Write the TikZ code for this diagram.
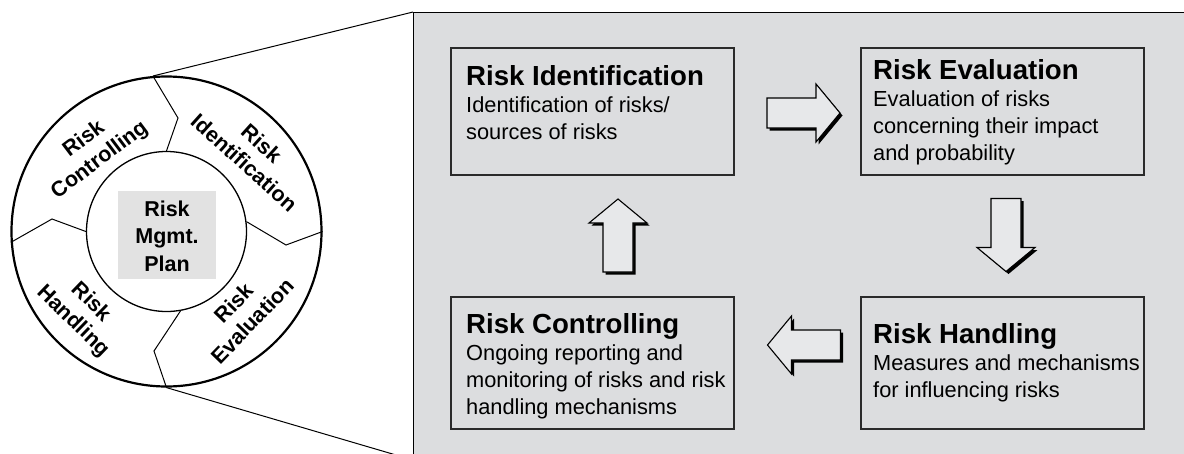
\documentclass[tikz,border=0pt]{standalone}
\usepackage{fontspec}
\setmainfont{Liberation Sans}
\definecolor{panelgray}{HTML}{DCDDDF}
\definecolor{arrowgray}{HTML}{E7E8EA}
\definecolor{centergray}{HTML}{E2E2E2}
\definecolor{boxline}{HTML}{2A2A2A}
\newcommand\titlef{\bfseries\fontsize{27.6}{27}\selectfont}
\newcommand\bodyf{\mdseries\fontsize{21.8}{27}\selectfont}
\newcommand\bkarrow[2]{%
  \fill[black, shift={(#1)}, shift={(2.5,2.5)}, rotate=#2]
    (-36.5,-15) -- (12.5,-15) -- (12.5,-29) -- (36.5,0) -- (12.5,29) -- (12.5,15) -- (-36.5,15) -- cycle;
  \filldraw[blockarr, shift={(#1)}, rotate=#2]
    (-36.5,-15) -- (12.5,-15) -- (12.5,-29) -- (36.5,0) -- (12.5,29) -- (12.5,15) -- (-36.5,15) -- cycle;}
\tikzset{
  blockarr/.style={fill=arrowgray, draw=black, line width=1.1pt, line join=miter},
  riskbox/.style={rectangle, draw=boxline, line width=1.3pt, inner sep=0},
  boxtext/.style={anchor=base west, inner sep=0},
  ringlbl/.style={align=center, inner sep=0, font=\bfseries\fontsize{21.5}{26}\selectfont},
  divider/.style={line width=1pt, black},
}
\begin{document}
\begin{tikzpicture}[x=1pt, y=-1pt]
\clip (0,0) rectangle (1184,453);
% zoom panel
\coordinate (pnw) at (413,12);
\coordinate (psw) at (413,460);
\coordinate (pne) at (1200,12);
\fill[panelgray] (pnw) rectangle (1200,470);
\draw[line width=1pt] (pne) -- (pnw) -- (413,470);

% ring
\node[circle, draw, line width=2.2pt, minimum size=310pt, inner sep=0] (outer) at (166.5,231.5) {};
\node[circle, draw, line width=1.3pt, minimum size=160pt, inner sep=0] (inner) at (166.5,231.5) {};
\draw[divider] (outer.95) -- (178,118) -- (inner.90);
\draw[divider] (inner.7.5) -- (286,245) -- (outer.-0.6);
\draw[divider] (inner.-80.5) -- (154,351) -- (outer.-90);
\draw[divider] (outer.184.3) -- (52,219) -- (inner.180.4);
\draw[divider] (outer.95) -- (pnw);
\draw[divider] (outer.-90) -- (psw);

\node[fill=centergray, minimum width=98pt, minimum height=88pt, inner sep=0] (planbg) at (167,235) {};
\node[align=center, inner sep=0, font=\bfseries\fontsize{21.5}{27.5}\selectfont] (plan) at (167,236) {Risk\\Mgmt.\\Plan};

\node[ringlbl, rotate=37] (rc) at (92,150) {Risk\\Controlling};
\node[ringlbl, rotate=-42] (ri) at (253,153) {Risk\\Identification};
\node[ringlbl, rotate=46] (re) at (243,312) {Risk\\Evaluation};
\node[ringlbl, rotate=-44] (rh) at (82,312) {Risk\\Handling};

% boxes
\node[riskbox, minimum width=283pt, minimum height=127pt] (idbox) at (592.5,111.5) {};
\node[riskbox, minimum width=283pt, minimum height=127pt] (evbox) at (1002.5,111.5) {};
\node[riskbox, minimum width=283pt, minimum height=132pt] (cobox) at (592.5,363) {};
\node[riskbox, minimum width=283pt, minimum height=132pt] (habox) at (1002.5,363) {};

\node[boxtext] (idtxt) at (466,85) {\parbox[t]{300pt}{\titlef Risk Identification\par\bodyf Identification of risks/\par sources of risks}};
\node[boxtext] (evtxt) at (873,79) {\parbox[t]{300pt}{\titlef Risk Evaluation\par\bodyf Evaluation of risks\par concerning their impact\par and probability}};
\node[boxtext] (cotxt) at (466,333) {\parbox[t]{300pt}{\titlef Risk Controlling\par\bodyf Ongoing reporting and\par monitoring of risks and risk\par handling mechanisms}};
\node[boxtext] (hatxt) at (873,343) {\parbox[t]{300pt}{\titlef Risk Handling\par\bodyf Measures and mechanisms\par for influencing risks}};

% block arrows
\coordinate (ar1) at (803.5,113);
\coordinate (ar2) at (1006,235);
\coordinate (ar3) at (804,345);
\coordinate (ar4) at (618,235.5);
\bkarrow{ar1}{0}
\bkarrow{ar2}{-90}
\bkarrow{ar3}{180}
\bkarrow{ar4}{90}
\end{tikzpicture}
\end{document}
